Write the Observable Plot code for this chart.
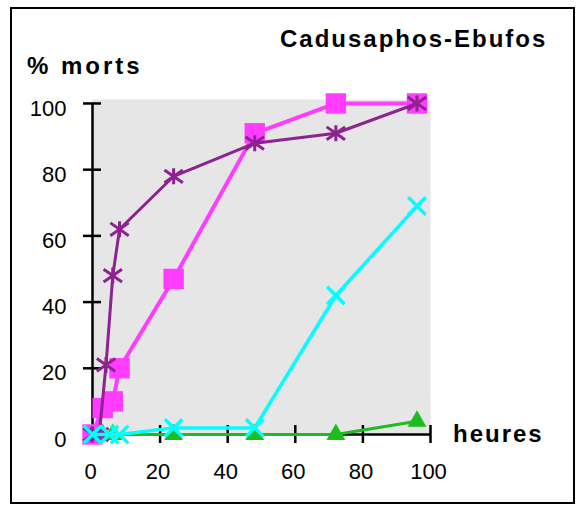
<!DOCTYPE html>
<html><head><meta charset="utf-8">
<script src="https://cdn.jsdelivr.net/npm/d3@7"></script>
<script src="https://cdn.jsdelivr.net/npm/@observablehq/plot@0.6"></script>
<style>
body{margin:0;background:#fff;}
#wrap{position:relative;width:577px;height:506px;overflow:hidden;font-family:"Liberation Sans",Arial,sans-serif;}
#frame{position:absolute;left:10px;top:7px;width:561px;height:493px;border:2.5px solid #000;}
.lbl{position:absolute;font-weight:bold;font-size:24px;letter-spacing:2px;line-height:24px;white-space:nowrap;color:#000;}
#chart{position:absolute;left:0;top:0;}
</style>
</head><body>
<div id="wrap">
  <div id="frame"></div>
  <div id="chart"></div>
  <div class="lbl" style="left:280px;top:27px;">Cadusaphos-Ebufos</div>
  <div class="lbl" style="left:27px;top:54px;letter-spacing:3px;">% morts</div>
  <div class="lbl" style="left:453px;top:422px;">heures</div>
</div>
<script>
// Tick labels
const xTicks = [0, 20, 40, 60, 80, 100];
const yTicks = [0, 20, 40, 60, 80, 100];

// Series (hours, % dead)
const magentaHours = [0, 3, 6, 8, 24, 48, 72, 96];
const magentaPct   = [0, 8, 10, 20, 47, 91, 100, 100];

const purpleHours = [0, 2, 4, 6, 8, 24, 48, 72, 96];
const purplePct   = [0, 0, 21, 48, 62, 78, 88, 91, 100];

const cyanHours = [0, 5, 8, 24, 48, 72, 96];
const cyanPct   = [0, 0, 0, 2, 2, 42, 69];

const greenHours = [0, 3, 6, 24, 48, 72, 96];
const greenPct   = [0, 0, 0, 0, 0, 0, 4];

const toRows = (h, p) => h.map((x, i) => ({x, y: p[i]}));
const magenta = toRows(magentaHours, magentaPct);
const purple = toRows(purpleHours, purplePct);
const cyan = toRows(cyanHours, cyanPct);
const green = toRows(greenHours, greenPct);

const asterisk = {
  draw(ctx, size) {
    const r = Math.sqrt(size / Math.PI);
    ctx.moveTo(0, -r); ctx.lineTo(0, r);
    ctx.moveTo(-1.15 * r, -0.8 * r); ctx.lineTo(1.15 * r, 0.8 * r);
    ctx.moveTo(-1.15 * r, 0.8 * r); ctx.lineTo(1.15 * r, -0.8 * r);
  }
};

const cMagenta = "#ff3cff", cPurple = "#8e2290", cCyan = "#00ffff", cGreen = "#1dbd1d";

const chart = Plot.plot({
  width: 577,
  height: 506,
  marginLeft: 92,
  marginRight: 147,
  marginTop: 99,
  marginBottom: 72,
  x: {domain: [0, 100]},
  y: {domain: [0, 101.2]},
  style: {background: "transparent", fontFamily: "Liberation Sans, Arial, sans-serif", fontSize: "22px", color: "#000"},
  marks: [
    Plot.frame({fill: "#e6e6e6", stroke: null}),
    Plot.axisX({ticks: xTicks, tickSize: 0, tickPadding: 29, dx: -2, label: null, fontSize: 22}),
    Plot.axisY({ticks: yTicks, tickSize: 0, tickPadding: 26, dy: 5, label: null, fontSize: 22}),
    Plot.ruleY([0], {x1: 0, x2: 100, stroke: "#000", strokeWidth: 2.5}),
    Plot.ruleX([0], {y1: 0, y2: 100, stroke: "#000", strokeWidth: 2.5}),
    Plot.ruleY(yTicks, {x1: 0, x2: 0, insetLeft: -9, insetRight: -9, stroke: "#000", strokeWidth: 2.5}),
    Plot.ruleX(xTicks, {y1: 0, y2: 0, insetTop: -9, insetBottom: -9, stroke: "#000", strokeWidth: 2.5}),

    Plot.line(green, {x: "x", y: "y", stroke: cGreen, strokeWidth: 3}),
    Plot.dot(green, {x: "x", y: "y", symbol: "triangle", r: 7, fill: cGreen, stroke: null}),

    Plot.line(magenta, {x: "x", y: "y", stroke: cMagenta, strokeWidth: 4}),
    Plot.dot(magenta, {x: "x", y: "y", symbol: "square", r: 11.5, fill: cMagenta, stroke: null}),

    Plot.line(purple, {x: "x", y: "y", stroke: cPurple, strokeWidth: 3}),
    Plot.dot(purple, {x: "x", y: "y", symbol: asterisk, r: 8, stroke: cPurple, strokeWidth: 3, fill: "none"}),

    Plot.line(cyan, {x: "x", y: "y", stroke: cCyan, strokeWidth: 3.5}),
    Plot.dot(cyan, {x: "x", y: "y", symbol: "times", r: 8, stroke: cCyan, strokeWidth: 3.5, fill: "none"})
  ]
});
document.getElementById("chart").appendChild(chart);
</script>
</body></html>
